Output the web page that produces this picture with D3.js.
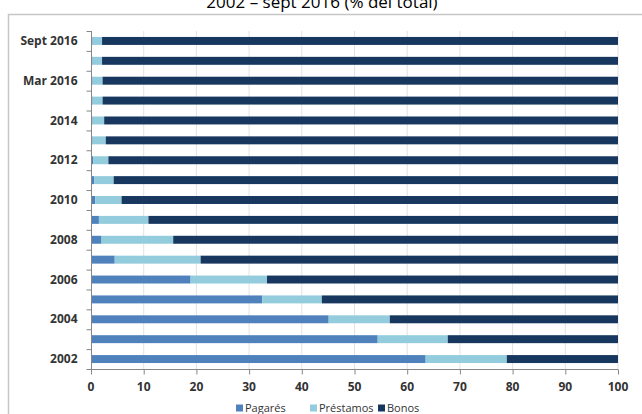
<!DOCTYPE html>
<html>
<head>
<meta charset="utf-8">
<script src="https://cdn.jsdelivr.net/npm/d3@7"></script>
<style>
    body { margin: 0; background: #fff; }
    svg { display: block; }
</style>
</head>
<body>
<svg id="chart" width="642" height="414"></svg>
<script>
// Categories, bottom to top
let categories = ['2002', '2003', '2004', '2005', '2006', '2007', '2008', '2009', '2010',
    '2011', '2012', '2013', '2014', '2015', 'Mar 2016', 'Jun 2016', 'Sept 2016'];
// Only every other category gets a label
let shownLabels = ['2002', '2004', '2006', '2008', '2010', '2012', '2014', 'Mar 2016', 'Sept 2016'];

// Share of total (%)
let pagares = [63.5, 54.4, 45.1, 32.5, 18.9, 4.5, 2.0, 1.5, 0.8, 0.6, 0.4, 0.3, 0.3, 0.3, 0.3, 0.3, 0.3];
let prestamos = [15.4, 13.3, 11.6, 11.3, 14.5, 16.3, 13.6, 9.4, 5.0, 3.7, 2.9, 2.5, 2.2, 1.9, 1.9, 1.8, 1.8];
let bonos = [21.1, 32.3, 43.3, 56.2, 66.6, 79.2, 84.4, 89.1, 94.2, 95.7, 96.7, 97.2, 97.5, 97.8, 97.8, 97.9, 97.9];

let seriesNames = ['Pagarés', 'Préstamos', 'Bonos'];
let seriesColors = ['#4f81bd', '#93cddd', '#17375e'];
let xTicks = [0, 10, 20, 30, 40, 50, 60, 70, 80, 90, 100];

let svg = d3.select('#chart');
let font = "'Open Sans', 'DejaVu Sans', sans-serif";

// Outer frame (partly cut off on the right and bottom)
svg.append('rect')
    .attr('x', 8.5).attr('y', 14.5)
    .attr('width', 700).attr('height', 500)
    .attr('fill', 'none')
    .attr('stroke', '#c6c6c6')
    .attr('stroke-width', 1.5);

// Title, cut at the top edge as in the source
svg.append('text')
    .attr('x', 322).attr('y', 8)
    .attr('text-anchor', 'middle')
    .attr('font-family', font)
    .attr('font-size', 17)
    .attr('fill', '#000')
    .text('2002 – sept 2016 (% del total)');

// Scales
let x = d3.scaleLinear().domain([0, 100]).range([91, 618]);
let y = d3.scaleBand().domain(categories).range([369, 31]).paddingInner(0.6).paddingOuter(0.3);
let yAxisBand = d3.scaleBand().domain(categories).range([369, 31]);

// Gridlines
svg.append('g')
    .selectAll('line')
    .data(xTicks.slice(1))
    .enter()
    .append('line')
    .attr('x1', (d) => x(d)).attr('x2', (d) => x(d))
    .attr('y1', 31).attr('y2', 369)
    .attr('stroke', '#e3e3e3')
    .attr('stroke-width', 1);

// Stack rows
let rows = categories.map((c, i) => ({
    cat: c, 'Pagarés': pagares[i], 'Préstamos': prestamos[i], 'Bonos': bonos[i],
}));
let stacked = d3.stack().keys(seriesNames)(rows);

svg.append('g')
    .selectAll('g')
    .data(stacked)
    .enter()
    .append('g')
    .attr('fill', (d, i) => seriesColors[i])
    .selectAll('rect')
    .data((d) => d)
    .enter()
    .append('rect')
    .attr('x', (d) => x(d[0]))
    .attr('y', (d) => y(d.data.cat))
    .attr('width', (d) => Math.max(0, x(Math.min(d[1], 100)) - x(d[0])))
    .attr('height', y.bandwidth());

// Y axis
let yAxis = svg.append('g').attr('transform', 'translate(91.5,0)');
yAxis.append('line')
    .attr('y1', 31).attr('y2', 369)
    .attr('stroke', '#868686');
yAxis.selectAll('.tick')
    .data(categories.concat(['_top']))
    .enter()
    .append('line')
    .attr('x1', -5).attr('x2', 0)
    .attr('y1', (d) => (d === '_top' ? 31 : yAxisBand(d) + yAxisBand.bandwidth()) + 0.5)
    .attr('y2', (d) => (d === '_top' ? 31 : yAxisBand(d) + yAxisBand.bandwidth()) + 0.5)
    .attr('stroke', '#868686');
yAxis.selectAll('text')
    .data(shownLabels)
    .enter()
    .append('text')
    .attr('x', -14)
    .attr('y', (d) => yAxisBand(d) + yAxisBand.bandwidth() / 2)
    .attr('dy', '0.35em')
    .attr('text-anchor', 'end')
    .attr('font-family', font)
    .attr('font-size', 12)
    .attr('font-weight', 'bold')
    .attr('fill', '#333')
    .text((d) => d);

// X axis
let xAxis = svg.append('g').attr('transform', 'translate(0,369.5)');
xAxis.append('line')
    .attr('x1', 91).attr('x2', 618)
    .attr('stroke', '#868686');
xAxis.selectAll('line.tick')
    .data(xTicks)
    .enter()
    .append('line')
    .attr('class', 'tick')
    .attr('x1', (d) => x(d) + 0.5).attr('x2', (d) => x(d) + 0.5)
    .attr('y1', 0).attr('y2', 5)
    .attr('stroke', '#868686');
xAxis.selectAll('text')
    .data(xTicks)
    .enter()
    .append('text')
    .attr('x', (d) => x(d))
    .attr('y', 17)
    .attr('dy', '0.35em')
    .attr('text-anchor', 'middle')
    .attr('font-family', font)
    .attr('font-size', 12)
    .attr('font-weight', 'bold')
    .attr('fill', '#333')
    .text((d) => d);

// Legend
let legendX = [236, 310, 378];
let legend = svg.append('g')
    .selectAll('g')
    .data(seriesNames)
    .enter()
    .append('g')
    .attr('transform', (d, i) => 'translate(' + legendX[i] + ',408)');
legend.append('rect')
    .attr('x', 0).attr('y', -3.5)
    .attr('width', 7).attr('height', 7)
    .attr('fill', (d, i) => seriesColors[i]);
legend.append('text')
    .attr('x', 9)
    .attr('dy', '0.35em')
    .attr('font-family', font)
    .attr('font-size', 11)
    .attr('fill', '#333')
    .text((d) => d);
</script>
</body>
</html>
